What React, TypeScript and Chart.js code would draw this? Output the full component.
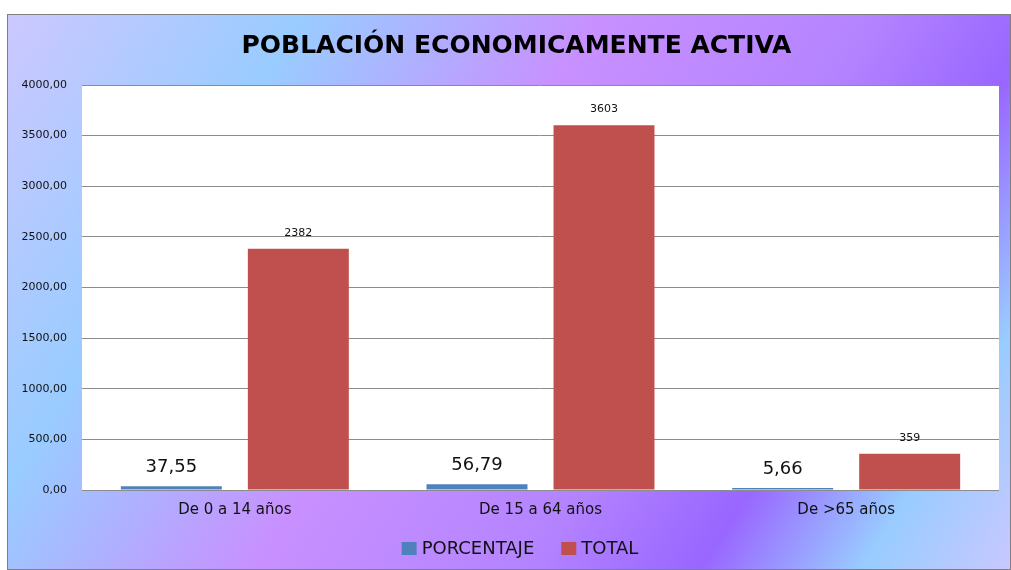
import { useEffect, useRef } from "react";
import { Chart, registerables } from "chart.js";

Chart.register(...registerables);

const categories = ["De 0 a 14 años", "De 15 a 64 años", "De >65 años"];
const porcentaje = [37.55, 56.79, 5.66];
const total = [2382, 3603, 359];
const porcentajeLabels = ["37,55", "56,79", "5,66"];
const totalLabels = ["2382", "3603", "359"];
const yMin = 0;
const yMax = 4000;
const yStep = 500;
const titleText = "POBLACIÓN ECONOMICAMENTE ACTIVA";
const seriesNames = ["PORCENTAJE", "TOTAL"];
const seriesColors = ["#4f81bd", "#c0504d"];

const FONT = "'DejaVu Sans', sans-serif";

const plotBackground = {
  id: "plotBackground",
  beforeDraw(chart: any) {
    const { ctx, chartArea } = chart;
    ctx.save();
    ctx.fillStyle = "#ffffff";
    ctx.fillRect(chartArea.left, chartArea.top, chartArea.right - chartArea.left, chartArea.bottom - chartArea.top);
    ctx.restore();
  },
};

const valueLabels = {
  id: "valueLabels",
  afterDatasetsDraw(chart: any) {
    const { ctx } = chart;
    const sets = [
      { labels: porcentajeLabels, font: `18px ${FONT}`, offset: 18.5 },
      { labels: totalLabels, font: `11px ${FONT}`, offset: 16 },
    ];
    ctx.save();
    ctx.textAlign = "center";
    ctx.textBaseline = "middle";
    ctx.fillStyle = "#111111";
    sets.forEach((s, di) => {
      const meta = chart.getDatasetMeta(di);
      meta.data.forEach((bar: any, i: number) => {
        ctx.font = s.font;
        ctx.fillText(s.labels[i], bar.x, bar.y - s.offset);
      });
    });
    ctx.restore();
  },
};

// Title and legend drawn in the frame (Chart.js boxes would clip the axis labels)
const frameText = {
  id: "frameText",
  afterDraw(chart: any) {
    const { ctx } = chart;
    ctx.save();
    // title
    ctx.font = `bold 25px ${FONT}`;
    ctx.fillStyle = "#000000";
    ctx.textAlign = "center";
    ctx.textBaseline = "middle";
    ctx.fillText(titleText, 508.5, 31.5);

    // legend
    ctx.font = `18px ${FONT}`;
    const box = 15;
    const boxH = 13;
    const gapText = 5;
    const gapItem = 27;
    const widths = seriesNames.map((n) => box + gapText + ctx.measureText(n).width);
    const totalW = widths.reduce((a, b) => a + b, 0) + gapItem * (seriesNames.length - 1);
    let x = 512 - totalW / 2;
    const cy = 533.5;
    ctx.textAlign = "left";
    seriesNames.forEach((n, i) => {
      ctx.fillStyle = seriesColors[i];
      ctx.fillRect(x, cy - boxH / 2, box, boxH);
      ctx.fillStyle = "#111111";
      ctx.fillText(n, x + box + gapText, cy + 0.5);
      x += widths[i] + gapItem;
    });
    ctx.restore();
  },
};

export default function App() {
  const canvasRef = useRef<HTMLCanvasElement | null>(null);

  useEffect(() => {
    if (!canvasRef.current) return;
    const chart = new Chart(canvasRef.current, {
      type: "bar",
      data: {
        labels: categories,
        datasets: [
          {
            label: seriesNames[0],
            data: porcentaje,
            backgroundColor: seriesColors[0],
            categoryPercentage: 0.831,
            barPercentage: 0.795,
            minBarLength: 2,
          },
          {
            label: seriesNames[1],
            data: total,
            backgroundColor: seriesColors[1],
            categoryPercentage: 0.831,
            barPercentage: 0.795,
          },
        ],
      },
      options: {
        responsive: false,
        animation: false,
        devicePixelRatio: 1,
        layout: { padding: { left: 0, right: 11, top: 70, bottom: 47 } },
        plugins: {
          title: { display: false },
          legend: { display: false },
          tooltip: { enabled: false },
        },
        scales: {
          x: {
            grid: { display: false, drawTicks: false },
            border: { display: false },
            ticks: {
              color: "#111111",
              font: { family: FONT, size: 15 },
              padding: 11.6,
            },
            afterFit(scale: any) {
              scale.height = 32;
            },
          },
          y: {
            min: yMin,
            max: yMax,
            grid: { color: "#8c8c8c", lineWidth: 1, drawTicks: false },
            border: { display: false },
            ticks: {
              stepSize: yStep,
              color: "#111111",
              font: { family: FONT, size: 11 },
              padding: 15,
              callback: (v: any) => Number(v).toFixed(2).replace(".", ","),
            },
            afterFit(scale: any) {
              scale.width = 74;
            },
          },
        },
      },
      plugins: [plotBackground, valueLabels, frameText],
    });
    return () => chart.destroy();
  }, []);

  return (
    <div
      style={{
        position: "absolute",
        left: 7,
        top: 14,
        width: 1004,
        height: 556,
        boxSizing: "border-box",
        border: "1px solid #7f7f7f",
        background:
          "linear-gradient(122deg, #ccc8ff 0%, #99ccff 22%, #c890ff 44%, #b484ff 64%, #9966ff 77%, #99ccff 89%, #c8c8ff 100%)",
        overflow: "hidden",
      }}
    >
      <canvas ref={canvasRef} width={1002} height={554} style={{ display: "block" }} />
    </div>
  );
}
